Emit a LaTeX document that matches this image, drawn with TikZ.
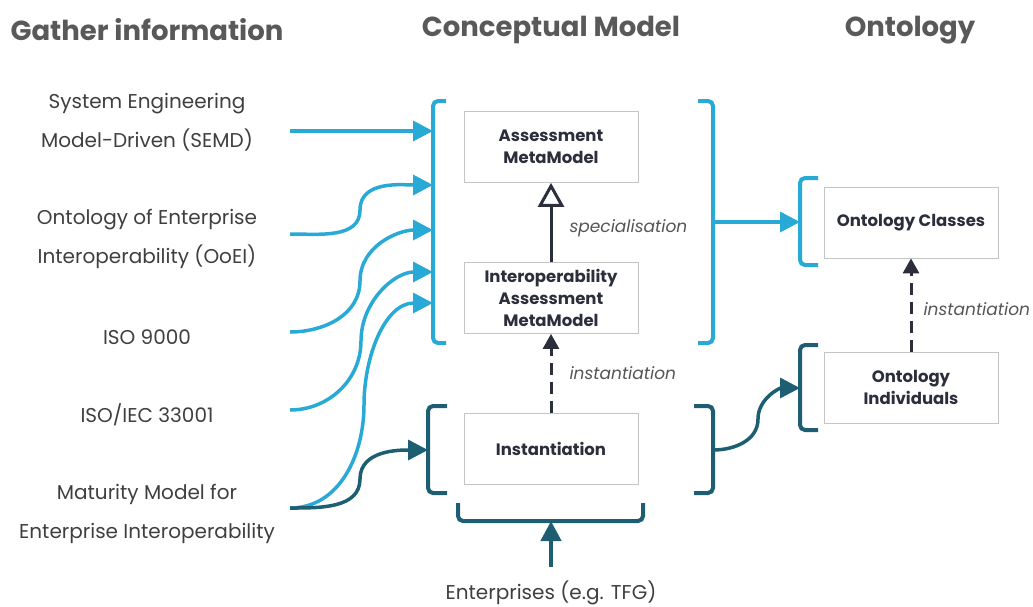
\documentclass[tikz,border=0pt]{standalone}
\usepackage{fontspec}
\setmainfont{Poppins}
\usetikzlibrary{arrows.meta,positioning}
\definecolor{SkyBlue}{HTML}{29AAD6}
\definecolor{DeepTeal}{HTML}{1D5E72}
\definecolor{InkNavy}{HTML}{2B2E3B}
\definecolor{TextGray}{HTML}{3F3F3F}
\definecolor{HeadGray}{HTML}{595959}
\definecolor{BoxGray}{HTML}{C4C4C4}
\definecolor{NoteGray}{HTML}{555555}

\begin{document}
\begin{tikzpicture}[x=1pt, y=-1pt, every node/.style={font=\fontsize{20}{39}\selectfont, text=TextGray, align=center}]
  \tikzstyle{heading}=[font=\fontsize{27.5}{30}\selectfont\bfseries, text=HeadGray]
  \tikzstyle{model}=[rectangle, draw=BoxGray, line width=0.8pt, minimum width=174pt, minimum height=71pt,
  align=center, font=\fontsize{16.5}{22}\selectfont\bfseries, text=InkNavy]
  \tikzstyle{note}=[font=\fontsize{17}{20}\selectfont\itshape, text=NoteGray, anchor=west]
  \tikzstyle{bracket}=[line width=4pt, rounded corners=5pt]
  \tikzstyle{feed}=[-{Triangle[length=20pt, width=20pt]}, line width=3.5pt]
  \tikzstyle{link}=[line width=3pt, color=InkNavy]
  \useasboundingbox (0,0) rectangle (1033,606);

  % column titles
  \node[heading] (gather) at (147,30) {Gather information};
  \node[heading] (concept) at (551,30) {Conceptual Model};
  \node[heading] (onto) at (910,30) {Ontology};

  % sources
  \node (semd) at (147,122.5) {System Engineering\\Model-Driven (SEMD)};
  \node (ooei) at (147,239) {Ontology of Enterprise\\Interoperability (OoEI)};
  \node (iso9000) at (147,337) {ISO 9000};
  \node (isoiec) at (147,415) {ISO/IEC 33001};
  \node (mmei) at (147,513.5) {Maturity Model for\\Enterprise Interoperability};
  \node (ent) at (551,593) {Enterprises (e.g. TFG)};
  \coordinate (semd out) at (290,131);
  \coordinate (ooei out) at (290,234);
  \coordinate (iso9000 out) at (290,332);
  \coordinate (isoiec out) at (290,410);
  \coordinate (mmei out) at (290,508);
  \coordinate (ent out) at (551,567);

  % models
  \node[model] (assess) at (551,147) {Assessment\\MetaModel};
  \node[model] (interop) at (551,298) {Interoperability\\Assessment\\MetaModel};
  \node[model] (inst) at (551,448.5) {Instantiation};
  \node[model] (classes) at (911,222.5) {Ontology Classes};
  \node[model] (individuals) at (911,387.5) {Ontology\\Individuals};

  % brackets
  \draw[bracket, SkyBlue] (446,101) -- (433,101) -- (433,343) -- (446,343);
  \draw[bracket, SkyBlue] (698,101) -- (713,101) -- (713,343) -- (698,343);
  \draw[bracket, SkyBlue] (818,178) -- (800,178) -- (800,265) -- (818,265);
  \draw[bracket, DeepTeal] (447,406) -- (428,406) -- (428,493) -- (447,493);
  \draw[bracket, DeepTeal] (694,406) -- (713,406) -- (713,493) -- (694,493);
  \draw[bracket, DeepTeal] (458,503) -- (458,521) -- (643,521) -- (643,503);
  \draw[bracket, DeepTeal] (818,345) -- (800,345) -- (800,430) -- (818,430);
  \coordinate (cm in1) at (433,131);
  \coordinate (cm in2) at (433,185);
  \coordinate (cm in3) at (433,230);
  \coordinate (cm in4) at (433,272);
  \coordinate (cm in5) at (433,303);
  \coordinate (cm out) at (713,222);
  \coordinate (cls in) at (800,222);
  \coordinate (inst in) at (428,450);
  \coordinate (inst out) at (713,450);
  \coordinate (inst low) at (551,521);
  \coordinate (ind in) at (800,388);

  % feeds into the conceptual model
  \draw[feed, SkyBlue] (semd out) -- (cm in1);
  \draw[feed, SkyBlue] (ooei out) to[out=0, in=-90] (360,210) to[out=90, in=180] (cm in2);
  \draw[feed, SkyBlue] (iso9000 out) to[out=0, in=-90] (360,281) to[out=90, in=180] (cm in3);
  \draw[feed, SkyBlue] (isoiec out) to[out=0, in=-90] (361,341) to[out=90, in=180] (cm in4);
  \draw[feed, SkyBlue] (mmei out) to[out=0, in=-90] (364,405) to[out=90, in=180] (cm in5);
  \draw[feed, DeepTeal] (mmei out) to[out=0, in=-90] (360,479) to[out=90, in=180] (inst in);
  \draw[feed, SkyBlue] (cm out) -- (cls in);
  \draw[feed, DeepTeal] (inst out) to[out=0, in=-90] (758,419) to[out=90, in=180] (ind in);
  \draw[feed, DeepTeal, line width=4.5pt] (ent out) -- (inst low);

  % relations between models
  \draw[link, -{Triangle[open, length=24pt, width=26pt, fill=white]}] (interop) -- (assess);
  \draw[link, dash pattern=on 12pt off 7pt, -{Triangle[length=15pt, width=16pt]}] (inst) -- (interop);
  \draw[link, dash pattern=on 12pt off 7pt, -{Triangle[length=15pt, width=16pt]}] (individuals) -- (classes);
  \node[note] (spec) at (566,228) {specialisation};
  \node[note] (inst1) at (566,373) {instantiation};
  \node[note] (inst2) at (920,309) {instantiation};
\end{tikzpicture}
\end{document}
